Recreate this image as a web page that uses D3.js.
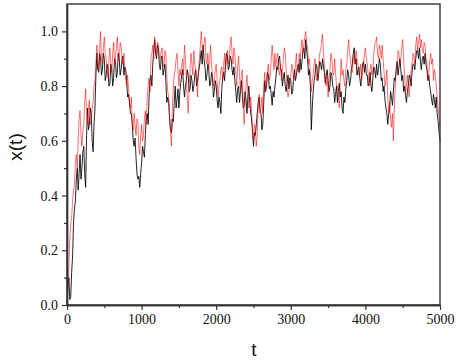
<!DOCTYPE html>
<html><head><meta charset="utf-8">
<script src="https://cdn.jsdelivr.net/npm/d3@7"></script>
<style>body{margin:0;background:#fff}svg{display:block}
.tk text{font-family:"Times New Roman","Liberation Serif","DejaVu Serif",serif;font-size:14px}
.lab{font-family:Arial,"Liberation Sans",sans-serif;font-size:19px}</style>
</head><body>
<script>
const tStep = 25;
// values at t = 0, 25, 50, ... 5000
const blackSeries = [0.00,0.10,0.03,0.18,0.35,0.46,0.42,0.55,0.50,0.58,0.43,0.72,0.66,0.70,0.56,0.72,0.92,0.85,0.90,0.86,
0.90,0.84,0.86,0.81,0.86,0.83,0.89,0.85,0.90,0.86,0.91,0.87,0.82,0.77,0.70,0.66,0.58,0.54,0.46,0.43,
0.52,0.56,0.62,0.70,0.76,0.84,0.88,0.97,0.90,0.94,0.86,0.91,0.86,0.82,0.76,0.68,0.63,0.67,0.80,0.75,
0.72,0.81,0.86,0.76,0.82,0.84,0.79,0.82,0.80,0.86,0.82,0.87,0.93,0.95,0.87,0.84,0.86,0.81,0.83,0.78,
0.80,0.72,0.74,0.79,0.85,0.88,0.91,0.87,0.90,0.84,0.82,0.74,0.80,0.78,0.77,0.73,0.75,0.76,0.74,0.68,
0.58,0.62,0.70,0.76,0.70,0.66,0.82,0.80,0.84,0.80,0.73,0.76,0.83,0.86,0.91,0.86,0.83,0.80,0.81,0.79,
0.82,0.78,0.86,0.84,0.88,0.90,0.89,0.94,0.97,0.90,0.86,0.64,0.78,0.84,0.87,0.85,0.88,0.90,0.85,0.84,
0.82,0.80,0.84,0.79,0.77,0.74,0.81,0.78,0.70,0.74,0.82,0.84,0.82,0.88,0.94,0.90,0.86,0.83,0.84,0.89,
0.88,0.84,0.81,0.80,0.83,0.86,0.88,0.86,0.88,0.83,0.80,0.72,0.66,0.72,0.76,0.78,0.82,0.89,0.87,0.86,
0.84,0.80,0.74,0.80,0.83,0.85,0.88,0.90,0.93,0.94,0.86,0.91,0.92,0.86,0.84,0.78,0.73,0.75,0.76,0.67,
0.60];
// values at t = 12.5, 37.5, ... 4987.5
const blackMid = [0.06,0.02,0.12,0.30,0.38,0.50,0.48,0.46,0.56,0.48,0.62,0.64,0.72,0.60,0.66,0.84,0.86,0.92,0.84,0.92,
0.82,0.88,0.80,0.88,0.80,0.90,0.83,0.92,0.84,0.90,0.84,0.86,0.76,0.74,0.70,0.60,0.61,0.48,0.47,0.48,
0.58,0.54,0.68,0.66,0.82,0.80,0.93,0.92,0.95,0.88,0.90,0.84,0.88,0.74,0.74,0.64,0.68,0.74,0.72,0.79,
0.78,0.84,0.80,0.80,0.86,0.78,0.84,0.78,0.84,0.80,0.85,0.90,0.88,0.90,0.82,0.88,0.80,0.85,0.76,0.82,
0.75,0.76,0.70,0.83,0.82,0.92,0.86,0.91,0.86,0.87,0.78,0.79,0.74,0.82,0.72,0.78,0.70,0.80,0.70,0.63,
0.63,0.66,0.74,0.71,0.64,0.74,0.78,0.85,0.79,0.77,0.78,0.80,0.87,0.90,0.86,0.80,0.85,0.78,0.84,0.83,
0.77,0.83,0.82,0.87,0.85,0.86,0.93,0.90,0.93,0.84,0.80,0.72,0.82,0.88,0.82,0.89,0.86,0.87,0.81,0.86,
0.78,0.85,0.80,0.74,0.80,0.78,0.76,0.72,0.76,0.79,0.86,0.80,0.86,0.92,0.88,0.84,0.87,0.80,0.88,0.85,
0.84,0.80,0.85,0.78,0.87,0.83,0.84,0.90,0.82,0.78,0.75,0.70,0.70,0.78,0.73,0.83,0.86,0.84,0.90,0.82,
0.78,0.77,0.78,0.84,0.80,0.88,0.86,0.93,0.90,0.89,0.90,0.88,0.88,0.82,0.80,0.75,0.77,0.72,0.70,0.63];
const redSeries = [0.00,0.14,0.30,0.38,0.44,0.55,0.60,0.71,0.58,0.66,0.79,0.66,0.75,0.68,0.74,0.82,0.95,0.86,1.00,0.88,
0.98,0.90,0.83,0.94,0.85,0.96,0.90,0.98,0.89,0.95,0.88,0.86,0.80,0.79,0.72,0.66,0.70,0.62,0.67,0.55,
0.66,0.62,0.71,0.76,0.83,0.90,0.95,0.98,0.92,0.95,0.90,0.94,0.87,0.92,0.78,0.70,0.58,0.80,0.86,0.92,
0.80,0.84,0.90,0.95,0.82,0.70,0.86,0.88,0.93,0.86,0.76,0.90,1.00,0.93,0.98,0.88,0.86,0.95,0.84,0.82,
0.88,0.76,0.82,0.87,0.88,0.85,0.93,0.90,0.98,0.88,0.92,0.80,0.91,0.78,0.86,0.66,0.80,0.78,0.74,0.70,
0.60,0.64,0.62,0.77,0.72,0.70,0.85,0.82,0.88,0.84,0.95,0.86,0.87,0.92,0.84,0.82,0.90,0.92,0.80,0.78,
0.84,0.87,0.83,0.92,0.85,0.90,0.97,0.95,1.00,0.94,0.90,0.78,0.84,0.90,0.82,0.88,0.93,0.99,0.88,0.80,
0.76,0.86,0.90,0.84,0.85,0.80,0.72,0.90,0.86,0.80,0.88,0.97,0.90,0.85,0.91,0.93,0.88,0.85,0.82,0.88,
0.94,0.88,0.80,0.88,0.86,0.95,0.98,0.90,0.93,0.95,0.85,0.82,0.76,0.74,0.65,0.60,0.80,0.88,0.92,0.90,
0.97,0.84,0.80,0.79,0.82,0.88,0.91,0.95,0.93,0.99,0.97,0.92,0.95,0.88,0.85,0.92,0.90,0.86,0.80,0.72,
0.65];
const redMid = [0.08,0.24,0.32,0.42,0.52,0.50,0.68,0.62,0.64,0.74,0.70,0.72,0.66,0.72,0.80,0.88,0.90,0.94,0.90,0.94,
0.92,0.86,0.90,0.88,0.92,0.88,0.95,0.90,0.96,0.90,0.92,0.82,0.84,0.74,0.76,0.64,0.66,0.68,0.58,0.62,
0.60,0.68,0.66,0.80,0.78,0.92,0.90,0.94,0.96,0.90,0.93,0.88,0.93,0.84,0.76,0.64,0.72,0.84,0.90,0.86,
0.86,0.88,0.84,0.90,0.76,0.80,0.92,0.84,0.88,0.82,0.86,0.95,0.94,0.96,0.90,0.92,0.90,0.88,0.80,0.86,
0.82,0.80,0.86,0.82,0.92,0.90,0.88,0.95,0.92,0.94,0.86,0.87,0.84,0.84,0.74,0.74,0.84,0.72,0.76,0.64,
0.66,0.58,0.72,0.70,0.76,0.80,0.78,0.86,0.82,0.90,0.90,0.92,0.90,0.86,0.88,0.86,0.94,0.86,0.76,0.82,
0.88,0.82,0.88,0.86,0.92,0.94,0.92,0.98,0.96,0.88,0.84,0.82,0.88,0.85,0.86,0.92,0.96,0.92,0.82,0.84,
0.82,0.92,0.85,0.90,0.80,0.76,0.82,0.84,0.82,0.86,0.93,0.92,0.86,0.90,0.88,0.90,0.84,0.88,0.86,0.92,
0.90,0.84,0.86,0.84,0.92,0.96,0.92,0.95,0.90,0.90,0.80,0.86,0.70,0.68,0.70,0.72,0.86,0.93,0.88,0.94,
0.90,0.78,0.84,0.76,0.86,0.92,0.88,0.98,0.96,0.94,0.93,0.96,0.90,0.82,0.89,0.88,0.82,0.84,0.76,0.68];
const xTicks = [0,1000,2000,3000,4000,5000];
const xMinor = [500,1500,2500,3500,4500];
const yTicks = [0.0,0.2,0.4,0.6,0.8,1.0];
const yMinor = [0.1,0.3,0.5,0.7,0.9];
const xLabel = "t", yLabel = "x(t)";

function merge(main, mid){
  const out = [];
  main.forEach((v,i)=>{
    out.push({t:i*tStep, v});
    if (i < mid.length) out.push({t:i*tStep + tStep/2, v: mid[i]});
  });
  return out;
}
const blackData = merge(blackSeries, blackMid);
const redData = merge(redSeries, redMid);

const W = 459, H = 360;
const m = {l:67, t:4, r:19, b:55};
const iw = W - m.l - m.r, ih = H - m.t - m.b;
const svg = d3.select("body").append("svg").attr("width", W).attr("height", H);
const g = svg.append("g").attr("transform", `translate(${m.l},${m.t})`);
const x = d3.scaleLinear().domain([0,5000]).range([0, iw]);
const y = d3.scaleLinear().domain([0,1.1]).range([ih, 0]);

const line = d3.line().x(d=>x(d.t)).y(d=>y(d.v));
g.append("path").datum(blackData).attr("d", line).attr("fill","none")
  .attr("stroke","#000").attr("stroke-opacity",0.85).attr("stroke-width",1);
g.append("path").datum(redData).attr("d", line).attr("fill","none")
  .attr("stroke","#ff0000").attr("stroke-opacity",0.55).attr("stroke-width",1);

g.append("rect").attr("x",0).attr("y",0).attr("width",iw).attr("height",ih)
  .attr("fill","none").attr("stroke","#333").attr("stroke-width",1.4);

const xa = g.append("g").attr("transform",`translate(0,${ih})`)
  .call(d3.axisBottom(x).tickValues(xTicks).tickSize(5).tickSizeOuter(0).tickPadding(4).tickFormat(d3.format("d")));
const xm = g.append("g").attr("transform",`translate(0,${ih})`)
  .call(d3.axisBottom(x).tickValues(xMinor).tickSize(3).tickSizeOuter(0).tickFormat(""));
const ya = g.append("g")
  .call(d3.axisLeft(y).tickValues(yTicks).tickSize(5).tickSizeOuter(0).tickPadding(4).tickFormat(d3.format(".1f")));
const ym = g.append("g")
  .call(d3.axisLeft(y).tickValues(yMinor).tickSize(3).tickSizeOuter(0).tickFormat(""));
[xa,xm,ya,ym].forEach(a=>{
  a.attr("class","tk").attr("font-family", null).attr("font-size", null);
  a.select(".domain").attr("stroke","#333").attr("stroke-width",1.4);
  a.selectAll(".tick line").attr("stroke","#333").attr("stroke-width",1.2);
  a.selectAll("text").attr("fill","#111");
});

svg.append("text").attr("class","lab").attr("x", 254).attr("y", 356).attr("text-anchor","middle")
  .attr("fill","#111").text(xLabel);
svg.append("text").attr("class","lab").attr("transform","translate(22,147) rotate(-90)").attr("text-anchor","middle")
  .attr("fill","#111").text(yLabel);
</script>
</body></html>
